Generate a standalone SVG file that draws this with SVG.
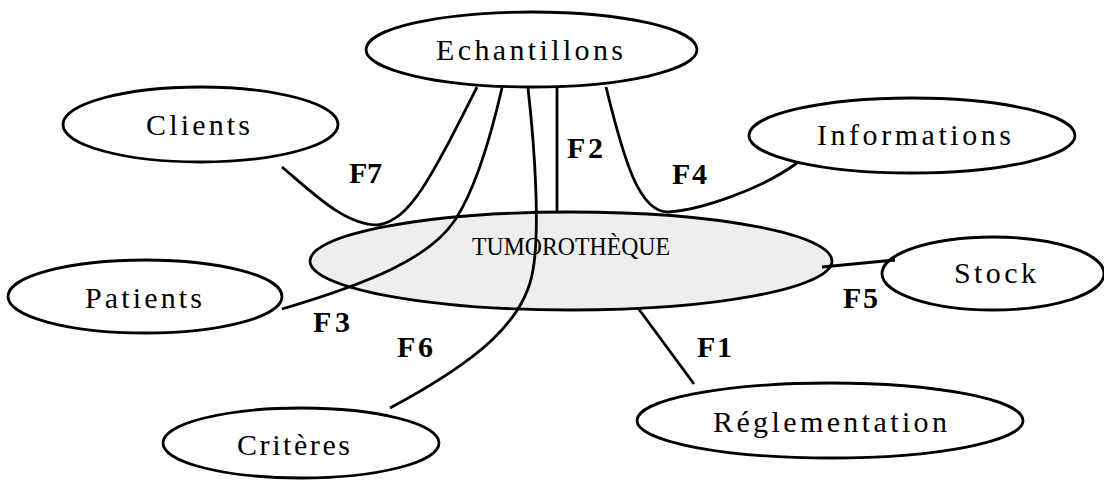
<svg xmlns="http://www.w3.org/2000/svg" width="1104" height="480" viewBox="0 0 1104 480">
  <style>
    .node { fill: #ffffff; stroke: #000000; stroke-width: 2.8; }
    .core { fill: #eeeeee; stroke: #000000; stroke-width: 2.8; }
    .lbl { font-family: "Liberation Serif", "Times New Roman", serif; font-size: 30px; fill: #000000; }
    .core-lbl { font-family: "Liberation Serif", "Times New Roman", serif; font-size: 25px; fill: #000000; }
    .flow { font-family: "Liberation Serif", "Times New Roman", serif; font-size: 30px; font-weight: bold; fill: #000000; }
    .conn { fill: none; stroke: #000000; stroke-width: 2.8; }
  </style>
  <rect x="0" y="0" width="1104" height="480" fill="#ffffff"/>

  <g id="node-tumorotheque">
    <ellipse class="core" cx="571" cy="261" rx="261" ry="49"/>
    <text class="core-lbl" x="472" y="255" textLength="198" lengthAdjust="spacingAndGlyphs">TUMOROTHÈQUE</text>
  </g>
  <g id="node-echantillons">
    <ellipse class="node" cx="531.5" cy="49.5" rx="165.5" ry="37.5"/>
    <text class="lbl" x="436" y="60" textLength="187" lengthAdjust="spacing">Echantillons</text>
  </g>
  <g id="node-clients">
    <ellipse class="node" cx="200.5" cy="124.5" rx="137.5" ry="37.5"/>
    <text class="lbl" x="146" y="135" textLength="104" lengthAdjust="spacing">Clients</text>
  </g>
  <g id="node-patients">
    <ellipse class="node" cx="145" cy="296.5" rx="137" ry="36.5"/>
    <text class="lbl" x="85" y="308" textLength="117" lengthAdjust="spacing">Patients</text>
  </g>
  <g id="node-criteres">
    <ellipse class="node" cx="301" cy="443" rx="138" ry="35"/>
    <text class="lbl" x="237" y="455" textLength="113" lengthAdjust="spacing">Critères</text>
  </g>
  <g id="node-informations">
    <ellipse class="node" cx="912" cy="135.5" rx="163" ry="37.5"/>
    <text class="lbl" x="817" y="145" textLength="194" lengthAdjust="spacing">Informations</text>
  </g>
  <g id="node-stock">
    <ellipse class="node" cx="993" cy="273.5" rx="111" ry="36.5"/>
    <text class="lbl" x="954" y="283" textLength="82" lengthAdjust="spacing">Stock</text>
  </g>
  <g id="node-reglementation">
    <ellipse class="node" cx="830" cy="420.5" rx="193" ry="37.5"/>
    <text class="lbl" x="713" y="432" textLength="234" lengthAdjust="spacing">Réglementation</text>
  </g>

  <g id="connectors">
    <path id="c-f7" class="conn" d="M282,167 C315,195 345,225 378,225 C410,220 430,180 477,87"/>
    <path id="c-f3" class="conn" d="M282,309 C370,283 430,258 455,220 C475,190 490,140 502,88"/>
    <path id="c-f6" class="conn" d="M528,88 C535,150 540,230 533,270 C525,320 480,360 390,408"/>
    <path id="c-f2" class="conn" d="M557,87 L557,211"/>
    <path id="c-f4" class="conn" d="M606,87 C625,165 640,212 668,212 C700,210 760,190 797,163"/>
    <path id="c-f5" class="conn" d="M822,267 L895,260"/>
    <path id="c-f1" class="conn" d="M638,308 L694,384"/>
  </g>

  <g id="flow-labels">
    <text class="flow" x="349" y="183" textLength="33" lengthAdjust="spacing">F7</text>
    <text class="flow" x="567" y="158" textLength="36" lengthAdjust="spacing">F2</text>
    <text class="flow" x="672" y="184" textLength="35" lengthAdjust="spacing">F4</text>
    <text class="flow" x="313" y="332" textLength="37" lengthAdjust="spacing">F3</text>
    <text class="flow" x="397" y="357" textLength="36" lengthAdjust="spacing">F6</text>
    <text class="flow" x="843" y="308" textLength="35" lengthAdjust="spacing">F5</text>
    <text class="flow" x="697" y="357" textLength="35" lengthAdjust="spacing">F1</text>
  </g>
</svg>
